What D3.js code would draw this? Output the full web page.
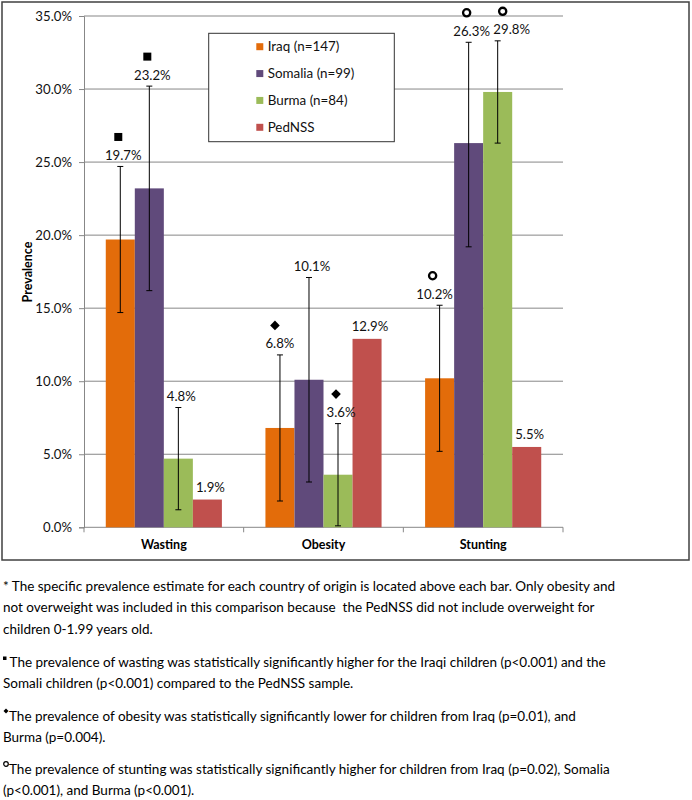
<!DOCTYPE html>
<html>
<head>
<meta charset="utf-8">
<script src="https://cdn.jsdelivr.net/npm/d3@7"></script>
<style>
  html, body { margin: 0; padding: 0; background: #fff; }
  svg { display: block; font-family: Lato, "Open Sans", sans-serif; }
</style>
</head>
<body>
<svg id="chart" width="692" height="800"></svg>
<script>
// ---- data ----
const categories = ["Wasting", "Obesity", "Stunting"];
const seriesNames = ["Iraq (n=147)", "Somalia (n=99)", "Burma (n=84)", "PedNSS"];
const iraq    = [19.7, 6.8, 10.2];
const somalia = [23.2, 10.1, 26.3];
const burma   = [4.7, 3.6, 29.8];
const pednss  = [1.9, 12.9, 5.5];
const iraqLabels    = ["19.7%", "6.8%", "10.2%"];
const somaliaLabels = ["23.2%", "10.1%", "26.3%"];
const burmaLabels   = ["4.8%", "3.6%", "29.8%"];
const pednssLabels  = ["1.9%", "12.9%", "5.5%"];
const iraqLow     = [14.7, 1.8, 5.2];
const iraqHigh    = [24.7, 11.8, 15.2];
const somaliaLow  = [16.2, 3.1, 19.2];
const somaliaHigh = [30.2, 17.1, 33.2];
const burmaLow    = [1.2, 0.1, 26.3];
const burmaHigh   = [8.2, 7.1, 33.3];
const iraqSig    = ["square", "diamond", "circle"];
const somaliaSig = ["square", null, "circle"];
const burmaSig   = [null, "diamond", "circle"];
const pednssSig  = [null, null, null];
const yTicks = [0, 5, 10, 15, 20, 25, 30, 35];
const yTitle = "Prevalence";
const footnotes = [
  {mark: "*", lines: ["* The specific prevalence estimate for each country of origin is located above each bar. Only obesity and",
                      "not overweight was included in this comparison because  the PedNSS did not include overweight for",
                      "children 0-1.99 years old."]},
  {mark: "square", lines: [" The prevalence of wasting was statistically significantly higher for the Iraqi children (p<0.001) and the",
                           "Somali children (p<0.001) compared to the PedNSS sample."]},
  {mark: "diamond", lines: ["The prevalence of obesity was statistically significantly lower for children from Iraq (p=0.01), and",
                            "Burma (p=0.004)."]},
  {mark: "circle", lines: ["The prevalence of stunting was statistically significantly higher for children from Iraq (p=0.02), Somalia",
                           "(p<0.001), and Burma (p<0.001)."]}
];

const seriesData = [
  {name: seriesNames[0], values: iraq, labels: iraqLabels, low: iraqLow, high: iraqHigh, sig: iraqSig, color: "#E36C0A"},
  {name: seriesNames[1], values: somalia, labels: somaliaLabels, low: somaliaLow, high: somaliaHigh, sig: somaliaSig, color: "#604A7B"},
  {name: seriesNames[2], values: burma, labels: burmaLabels, low: burmaLow, high: burmaHigh, sig: burmaSig, color: "#9BBB59"},
  {name: seriesNames[3], values: pednss, labels: pednssLabels, low: null, high: null, sig: pednssSig, color: "#C0504D"}
];

// ---- layout ----
const svg = d3.select("#chart");
const plot = {left: 84, right: 563, top: 16, bottom: 527.3};
const gridColor = "#878787";

svg.append("rect").attr("x", 2).attr("y", 2).attr("width", 687).attr("height", 558)
  .attr("fill", "#fff").attr("stroke", "#404040").attr("stroke-width", 1.5);

const y = d3.scaleLinear().domain([0, 35]).range([plot.bottom, plot.top]);
const x0 = d3.scaleBand().domain(categories).range([plot.left, plot.right]).paddingInner(0).paddingOuter(0);
const x1 = d3.scaleBand().domain(seriesNames).range([0, x0.bandwidth()]).paddingInner(0).paddingOuter(0.75);

// gridlines
svg.append("g").selectAll("line").data(yTicks.filter(d => d > 0)).join("line")
  .attr("x1", plot.left).attr("x2", plot.right)
  .attr("y1", d => y(d)).attr("y2", d => y(d))
  .attr("stroke", gridColor).attr("stroke-width", 1);

// y axis
const yAxis = d3.axisLeft(y).tickValues(yTicks).tickSize(5).tickPadding(7)
  .tickFormat(d => d3.format(".1f")(d) + "%");
const gy = svg.append("g").attr("transform", `translate(${plot.left},0)`).call(yAxis);
gy.select(".domain").attr("stroke", gridColor);
gy.selectAll(".tick line").attr("stroke", gridColor);
gy.selectAll(".tick text").attr("font-family", "Lato").attr("font-size", 13.2).attr("fill", "#111");

// x axis
svg.append("line").attr("x1", plot.left).attr("x2", plot.right)
  .attr("y1", plot.bottom).attr("y2", plot.bottom).attr("stroke", gridColor);
const bounds = categories.map(c => x0(c)).concat([x0(categories[categories.length - 1]) + x0.bandwidth()]);
svg.append("g").selectAll("line").data(bounds).join("line")
  .attr("x1", d => d).attr("x2", d => d).attr("y1", plot.bottom).attr("y2", plot.bottom + 5)
  .attr("stroke", gridColor);
svg.append("g").selectAll("text").data(categories).join("text")
  .attr("x", d => x0(d) + x0.bandwidth() / 2).attr("y", 548.5)
  .attr("text-anchor", "middle").attr("font-weight", "bold").attr("font-size", 12.5)
  .attr("fill", "#000").text(d => d);

// y title
svg.append("text").attr("transform", "translate(32,272) rotate(-90)")
  .attr("text-anchor", "middle").attr("font-weight", "bold").attr("font-size", 12.5)
  .attr("fill", "#000").text(yTitle);

// bars
const groups = svg.append("g").selectAll("g").data(categories).join("g")
  .attr("transform", c => `translate(${x0(c)},0)`);

seriesData.forEach((s) => {
  groups.append("rect")
    .attr("x", (c) => x1(s.name))
    .attr("width", x1.bandwidth())
    .attr("y", (c, i) => y(s.values[i]))
    .attr("height", (c, i) => y(0) - y(s.values[i]))
    .attr("fill", s.color);
});

// error bars
seriesData.forEach((s) => {
  if (!s.low) return;
  groups.each(function(c, i) {
    const g = d3.select(this);
    const cx = x1(s.name) + x1.bandwidth() / 2;
    g.append("line").attr("x1", cx).attr("x2", cx).attr("y1", y(s.low[i])).attr("y2", y(s.high[i]))
      .attr("stroke", "#000").attr("stroke-width", 1);
    [s.low[i], s.high[i]].forEach(v => {
      g.append("line").attr("x1", cx - 3).attr("x2", cx + 3).attr("y1", y(v)).attr("y2", y(v))
        .attr("stroke", "#000").attr("stroke-width", 1);
    });
  });
});

// label nudges (layout only)
const labelDx = {"Obesity|0": 0, "Stunting|0": -5, "Stunting|2": 14};
const markerDx = {"Stunting|0": -2, "Stunting|2": -9};

function drawMarker(g, type, cx, cy) {
  if (type === "square") {
    const s = 8;
    g.append("rect").attr("x", cx - s / 2).attr("y", cy - s / 2).attr("width", s).attr("height", s).attr("fill", "#000");
  } else if (type === "diamond") {
    const r = 4.8;
    g.append("path").attr("d", `M${cx},${cy - r}L${cx + r},${cy}L${cx},${cy + r}L${cx - r},${cy}Z`).attr("fill", "#000");
  } else if (type === "circle") {
    g.append("circle").attr("cx", cx).attr("cy", cy).attr("r", 3.6)
      .attr("fill", "#fff").attr("stroke", "#000").attr("stroke-width", 2.3);
  }
}

seriesData.forEach((s, si) => {
  groups.each(function(c, i) {
    const g = d3.select(this);
    const key = c + "|" + si;
    const top = s.high ? Math.max(s.values[i], s.high[i]) : s.values[i];
    const lx = x1(s.name) + x1.bandwidth() / 2 + (key in labelDx ? labelDx[key] : 3);
    const ly = y(top) - (s.high ? 6.5 : 8);
    g.append("text").attr("x", lx).attr("y", ly).attr("text-anchor", "middle")
      .attr("font-size", 13.2).attr("fill", "#111").text(s.labels[i]);
    if (s.sig[i]) {
      const mx = lx + (key in markerDx ? markerDx[key] : -5);
      drawMarker(g, s.sig[i], mx, ly - 23);
    }
  });
});

// legend
const lg = svg.append("g");
lg.append("rect").attr("x", 208.7).attr("y", 33.3).attr("width", 185.6).attr("height", 108.4)
  .attr("fill", "#fff").attr("stroke", "#333").attr("stroke-width", 1);
const legendRowY = d3.scalePoint().domain(seriesNames).range([46.7, 127.3]);
seriesData.forEach(s => {
  const cy = legendRowY(s.name);
  lg.append("rect").attr("x", 256.3).attr("y", cy - 3.5).attr("width", 7).attr("height", 7).attr("fill", s.color);
  lg.append("text").attr("x", 267.7).attr("y", cy + 4.5).attr("font-size", 13.4).attr("fill", "#111").text(s.name);
});

// footnotes
const fg = svg.append("g").attr("font-size", 13.5).attr("fill", "#000");
const paraStarts = [586, 662, 716, 769];
const lineStep = 21.5;
footnotes.forEach((f, pi) => {
  f.lines.forEach((ln, li) => {
    const yy = paraStarts[pi] + li * lineStep + 4.5;
    let x = 3;
    if (li === 0 && f.mark !== "*") {
      if (f.mark === "square") { fg.append("rect").attr("x", 3).attr("y", yy - 10).attr("width", 3.5).attr("height", 3.5).attr("fill", "#000"); x = 6.5; }
      if (f.mark === "diamond") { fg.append("path").attr("d", `M6,${yy - 12}L8.5,${yy - 9.5}L6,${yy - 7}L3.5,${yy - 9.5}Z`).attr("fill", "#000"); x = 9; }
      if (f.mark === "circle") { fg.append("circle").attr("cx", 6).attr("cy", yy - 9.5).attr("r", 2.3).attr("fill", "none").attr("stroke", "#000").attr("stroke-width", 1.2); x = 9; }
    }
    fg.append("text").attr("x", x).attr("y", yy).attr("xml:space", "preserve").style("white-space", "pre").text(ln);
  });
});
</script>
</body>
</html>
